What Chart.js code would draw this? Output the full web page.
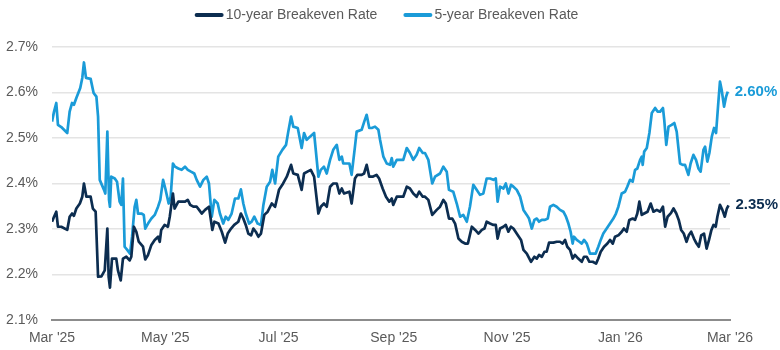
<!DOCTYPE html>
<html>
<head>
<meta charset="utf-8">
<script src="https://cdn.jsdelivr.net/npm/chart.js@4.4.1/dist/chart.umd.min.js"></script>
<style>
  html, body { margin: 0; padding: 0; background: #ffffff; }
  #wrap { width: 780px; height: 350px; position: relative; }
</style>
</head>
<body>
<div id="wrap"><canvas id="c" width="780" height="350"></canvas></div>
<script>
// Days counted from 1 Mar 2025
const xTickDays = [0, 61, 122, 184, 245, 306, 365];
const xTickLabels = ["Mar '25", "May '25", "Jul '25", "Sep '25", "Nov '25", "Jan '26", "Mar '26"];
const yTickValues = [2.1, 2.2, 2.3, 2.4, 2.5, 2.6, 2.7];

const seriesNames = ["10-year Breakeven Rate", "5-year Breakeven Rate"];

const tenYearDays = [0,1.1,2.3,3.2,5.0,8.2,9.5,10.8,11.8,13.1,15.0,16.3,17.2,18.5,20.8,22.0,23.5,24.8,26.6,28.4,
  29.8,30.5,31.2,32.3,34.6,35.5,37.0,38.2,40.0,41.8,42.7,44.1,45.4,46.7,49.0,50.2,51.7,53.5,55.3,57.1,
  58.0,58.8,60.6,62.4,63.4,65.1,66.0,
  68.0,69.8,71.6,73.1,74.4,76.1,77.9,79.2,80.6,82.4,84.5,86.3,87.4,89.6,91.4,93.2,94.6,96.4,98.1,100.3,
  101.7,103.0,104.3,105.7,107.2,108.4,109.7,111.1,112.5,114.3,116.1,118.3,120.1,122.2,124.0,126.4,128.7,129.9,132.3,134.4,
  135.7,
  137.5,139.3,141.1,143.4,144.7,146.4,147.9,149.7,151.4,153.3,154.7,156.0,157.2,160.1,161.3,163.1,164.4,166.7,168.0,169.4,
  170.8,172.6,174.7,176.1,178.0,179.8,181.6,182.9,183.7,185.6,189.1,191.0,192.7,194.5,196.3,197.7,199.6,
  200.8,202.6,204.7,207.1,208.9,210.7,212.0,213.7,215.5,217.0,218.8,220.6,222.4,223.9,226.0,227.8,229.6,231.4,232.8,234.0,
  235.8,237.6,238.9,239.9,241.2,243.0,244.3,245.7,247.1,248.4,250.7,252.5,253.8,255.6,257.9,259.7,261.0,262.2,263.7,265.1,
  266.3,267.6,269.9,
  271.7,273.5,274.9,276.2,277.4,278.9,280.3,281.5,283.3,285.2,286.4,287.9,289.3,291.1,292.9,294.1,295.4,297.2,299.0,300.4,
  301.9,303.1,304.9,306.7,307.9,309.4,310.8,312.6,313.9,315.1,316.2,317.5,318.8,320.6,322.3,323.8,325.6,327.4,328.9,330.1,
  331.4,333.2,334.6,336.1,
  337.4,338.7,340.1,341.6,342.8,344.1,345.6,347.0,348.2,349.5,351.0,352.4,353.7,355.0,356.1,357.3,358.2,359.6,360.9,362.2,
  363.3,364.2];
const tenYearRate = [2.316,2.327,2.338,2.305,2.305,2.298,2.327,2.334,2.329,2.345,2.356,2.371,2.400,2.371,2.371,2.345,2.338,2.195,2.196,2.209,
  2.301,2.195,2.171,2.235,2.235,2.209,2.187,2.235,2.239,2.231,2.239,2.305,2.294,2.272,2.261,2.233,2.243,2.265,2.276,2.283,
  2.272,2.298,2.309,2.305,2.327,2.378,2.345,
  2.360,2.360,2.360,2.364,2.353,2.349,2.349,2.342,2.334,2.342,2.349,2.298,2.316,2.312,2.294,2.270,2.290,2.301,2.309,2.316,
  2.334,2.323,2.309,2.290,2.286,2.301,2.294,2.283,2.290,2.331,2.338,2.356,2.349,2.386,2.397,2.415,2.441,2.422,2.419,2.386,
  2.422,
  2.426,2.430,2.415,2.334,2.349,2.356,2.349,2.393,2.400,2.400,2.378,2.389,2.378,2.382,2.356,2.411,2.419,2.419,2.422,2.441,
  2.415,2.415,2.419,2.411,2.389,2.371,2.360,2.367,2.353,2.371,2.371,2.393,2.389,2.378,2.371,2.382,2.371,
  2.371,2.364,2.331,2.342,2.349,2.364,2.356,2.323,2.323,2.312,2.279,2.272,2.268,2.268,2.305,2.298,2.290,2.298,2.301,2.316,
  2.312,2.309,2.309,2.279,2.301,2.305,2.309,2.294,2.305,2.301,2.287,2.276,2.254,2.246,2.228,2.239,2.235,2.243,2.239,2.250,
  2.250,2.270,2.270,
  2.272,2.272,2.268,2.276,2.261,2.254,2.235,2.243,2.235,2.228,2.239,2.239,2.228,2.228,2.224,2.235,2.250,2.261,2.268,2.276,
  2.268,2.283,2.286,2.294,2.301,2.294,2.320,2.323,2.320,2.334,2.360,2.331,2.334,2.338,2.356,2.338,2.342,2.338,2.349,2.305,
  2.327,2.335,2.345,2.334,
  2.320,2.298,2.290,2.272,2.286,2.294,2.279,2.268,2.261,2.286,2.290,2.257,2.276,2.298,2.309,2.305,2.327,2.353,2.342,2.327,
  2.345,2.352];

const fiveYearDays = [0,1.1,2.3,3.2,5.0,8.2,9.5,10.8,11.8,13.1,15.2,16.3,17.2,18.3,20.8,22.4,23.9,24.8,25.7,28.0,
  28.7,29.8,30.7,31.2,31.9,33.8,35.0,36.4,37.3,38.2,39.1,40.5,42.0,43.1,44.5,45.4,46.3,48.1,49.4,50.2,
  51.7,53.5,55.3,57.1,58.3,59.8,61.0,62.8,63.9,65.1,
  66.2,68.0,69.8,71.6,73.1,74.8,76.6,77.9,79.7,81.5,83.3,84.5,86.0,87.4,89.2,90.4,92.2,93.5,94.9,96.7,
  98.5,100.3,101.7,103.0,104.3,106.1,107.5,108.9,110.7,112.5,113.8,115.6,117.4,118.6,120.1,121.8,124.0,126.0,127.2,128.7,
  129.9,132.3,134.4,
  135.7,137.1,138.9,141.1,143.4,144.7,146.4,147.9,149.7,151.4,153.3,154.7,156.0,156.8,160.1,161.3,163.1,164.0,166.7,168.1,
  169.4,170.8,172.1,173.9,175.7,176.6,178.4,180.2,182.0,182.9,183.7,185.6,189.1,191.0,192.7,194.5,196.3,197.7,199.6,
  200.8,202.6,204.7,206.2,208.9,210.7,212.5,213.7,216.0,217.9,219.7,221.4,223.3,225.0,226.8,228.6,230.4,232.2,234.0,235.8,
  237.6,238.9,239.9,241.2,243.0,244.3,245.7,247.1,248.4,250.2,252.0,253.8,255.6,256.8,258.3,259.7,261.0,262.2,263.7,265.4,
  266.9,268.1,269.9,
  271.7,273.5,275.3,276.7,278.0,279.2,280.3,281.0,282.5,283.9,285.2,286.4,287.9,288.8,289.6,292.7,294.1,295.4,296.8,298.6,
  300.4,302.2,303.6,304.9,306.7,308.5,309.7,311.2,312.6,313.9,315.1,316.6,317.5,318.0,318.8,320.2,321.6,322.9,324.7,326.0,
  327.4,328.9,329.6,330.7,331.9,333.6,335.0,336.3,
  338.1,339.5,340.8,342.6,343.8,345.3,346.7,348.0,349.2,350.7,351.6,352.8,353.9,355.2,356.4,357.5,358.7,359.6,360.5,361.8,
  362.9,363.8];
const fiveYearRate = [2.536,2.558,2.577,2.529,2.524,2.511,2.558,2.577,2.573,2.588,2.610,2.632,2.666,2.632,2.630,2.599,2.591,2.547,2.408,2.386,
  2.378,2.514,2.364,2.349,2.415,2.411,2.404,2.360,2.353,2.411,2.261,2.254,2.246,2.283,2.349,2.364,2.334,2.334,2.331,2.301,
  2.312,2.323,2.331,2.349,2.364,2.408,2.389,2.356,2.371,2.444,
  2.437,2.433,2.430,2.437,2.430,2.426,2.422,2.408,2.393,2.408,2.415,2.400,2.327,2.364,2.356,2.334,2.312,2.327,2.320,2.334,
  2.367,2.367,2.387,2.356,2.334,2.312,2.316,2.327,2.312,2.309,2.353,2.393,2.404,2.430,2.400,2.459,2.474,2.485,2.514,2.547,
  2.525,2.522,2.478,
  2.511,2.496,2.503,2.511,2.415,2.430,2.437,2.422,2.452,2.474,2.485,2.452,2.459,2.444,2.444,2.419,2.481,2.514,2.518,2.536,
  2.551,2.522,2.522,2.525,2.518,2.496,2.459,2.444,2.441,2.456,2.437,2.452,2.452,2.478,2.467,2.452,2.463,2.478,2.467,
  2.467,2.452,2.400,2.415,2.422,2.437,2.426,2.386,2.382,2.356,2.327,2.331,2.316,2.349,2.397,2.386,2.375,2.378,2.411,2.411,
  2.408,2.411,2.360,2.393,2.389,2.400,2.378,2.397,2.393,2.386,2.371,2.342,2.331,2.323,2.301,2.320,2.323,2.316,2.320,2.320,
  2.323,2.349,2.353,
  2.349,2.342,2.338,2.327,2.312,2.294,2.268,2.283,2.276,2.272,2.268,2.276,2.268,2.257,2.246,2.246,2.261,2.276,2.290,2.301,
  2.312,2.323,2.334,2.349,2.378,2.382,2.393,2.408,2.404,2.430,2.433,2.452,2.459,2.441,2.470,2.478,2.511,2.555,2.566,2.558,
  2.558,2.566,2.540,2.485,2.525,2.529,2.533,2.514,
  2.444,2.441,2.441,2.419,2.444,2.463,2.452,2.433,2.426,2.474,2.481,2.448,2.467,2.503,2.522,2.511,2.577,2.624,2.606,2.569,
  2.591,2.602];

const DARK = '#0c2d50';
const LIGHT = '#1a9bd8';
const TEXT = '#5a5a5a';
const FONT = "'Liberation Sans', Arial, sans-serif";

function toPoints(days, vals) { return days.map((d, i) => ({ x: d, y: vals[i] })); }

const topLegend = {
  id: 'topLegend',
  afterDraw(chart) {
    const ctx = chart.ctx;
    ctx.save();
    ctx.font = '14px ' + FONT;
    const lineW = 27, gap = 3, itemGap = 27;
    const items = chart.data.datasets.map(ds => ({ label: ds.label, color: ds.borderColor, w: lineW + gap + ctx.measureText(ds.label).width }));
    const total = items.reduce((s, it) => s + it.w, 0) + itemGap * (items.length - 1);
    let x = 387 - total / 2;
    const y = 15;
    items.forEach(it => {
      ctx.strokeStyle = it.color;
      ctx.lineWidth = 4;
      ctx.lineCap = 'round';
      ctx.beginPath();
      ctx.moveTo(x + 1, y);
      ctx.lineTo(x + lineW - 1, y);
      ctx.stroke();
      ctx.fillStyle = TEXT;
      ctx.textBaseline = 'middle';
      ctx.textAlign = 'left';
      ctx.fillText(it.label, x + lineW + gap, y);
      x += it.w + itemGap;
    });
    ctx.restore();
  }
};

const endLabels = {
  id: 'endLabels',
  afterDatasetsDraw(chart) {
    const ctx = chart.ctx;
    ctx.save();
    ctx.font = 'bold 15px ' + FONT;
    ctx.textBaseline = 'middle';
    ctx.textAlign = 'left';
    chart.data.datasets.forEach((ds, i) => {
      const meta = chart.getDatasetMeta(i);
      const pt = meta.data[meta.data.length - 1];
      const v = ds.data[ds.data.length - 1].y;
      ctx.fillStyle = ds.borderColor;
      ctx.fillText(v.toFixed(2) + '%', pt.x + 7, pt.y);
    });
    ctx.restore();
  }
};

new Chart(document.getElementById('c'), {
  type: 'line',
  data: {
    datasets: [
      { label: seriesNames[0], data: toPoints(tenYearDays, tenYearRate), borderColor: DARK, backgroundColor: DARK, borderWidth: 2.7, pointRadius: 0, tension: 0, borderJoinStyle: 'round' },
      { label: seriesNames[1], data: toPoints(fiveYearDays, fiveYearRate), borderColor: LIGHT, backgroundColor: LIGHT, borderWidth: 2.7, pointRadius: 0, tension: 0, borderJoinStyle: 'round' }
    ]
  },
  options: {
    responsive: false,
    animation: false,
    devicePixelRatio: 1,
    layout: { padding: { top: 47, right: 50, bottom: 3, left: 0 } },
    plugins: { legend: { display: false }, tooltip: { enabled: false } },
    scales: {
      x: {
        type: 'linear',
        min: 0, max: 365,
        afterBuildTicks: s => { s.ticks = xTickDays.map(v => ({ value: v })); },
        afterFit: s => { s.height = 27; },
        ticks: {
          autoSkip: false, maxRotation: 0, padding: 10,
          color: TEXT, font: { family: FONT, size: 14 },
          callback: (v, i) => xTickLabels[i]
        },
        grid: { display: false, drawTicks: false },
        border: { display: true, color: '#8c8c8c', width: 2 }
      },
      y: {
        min: 2.1, max: 2.7,
        afterBuildTicks: s => { s.ticks = yTickValues.map(v => ({ value: v })); },
        afterFit: s => { s.width = 52; },
        ticks: {
          padding: 14, color: TEXT, font: { family: FONT, size: 14 },
          callback: v => v.toFixed(1) + '%'
        },
        grid: {
          drawTicks: false, lineWidth: 1.5,
          color: c => (c.tick && Math.abs(c.tick.value - 2.1) < 1e-6) ? 'rgba(0,0,0,0)' : '#e4e4e4'
        },
        border: { display: false }
      }
    }
  },
  plugins: [topLegend, endLabels]
});
</script>
</body>
</html>
